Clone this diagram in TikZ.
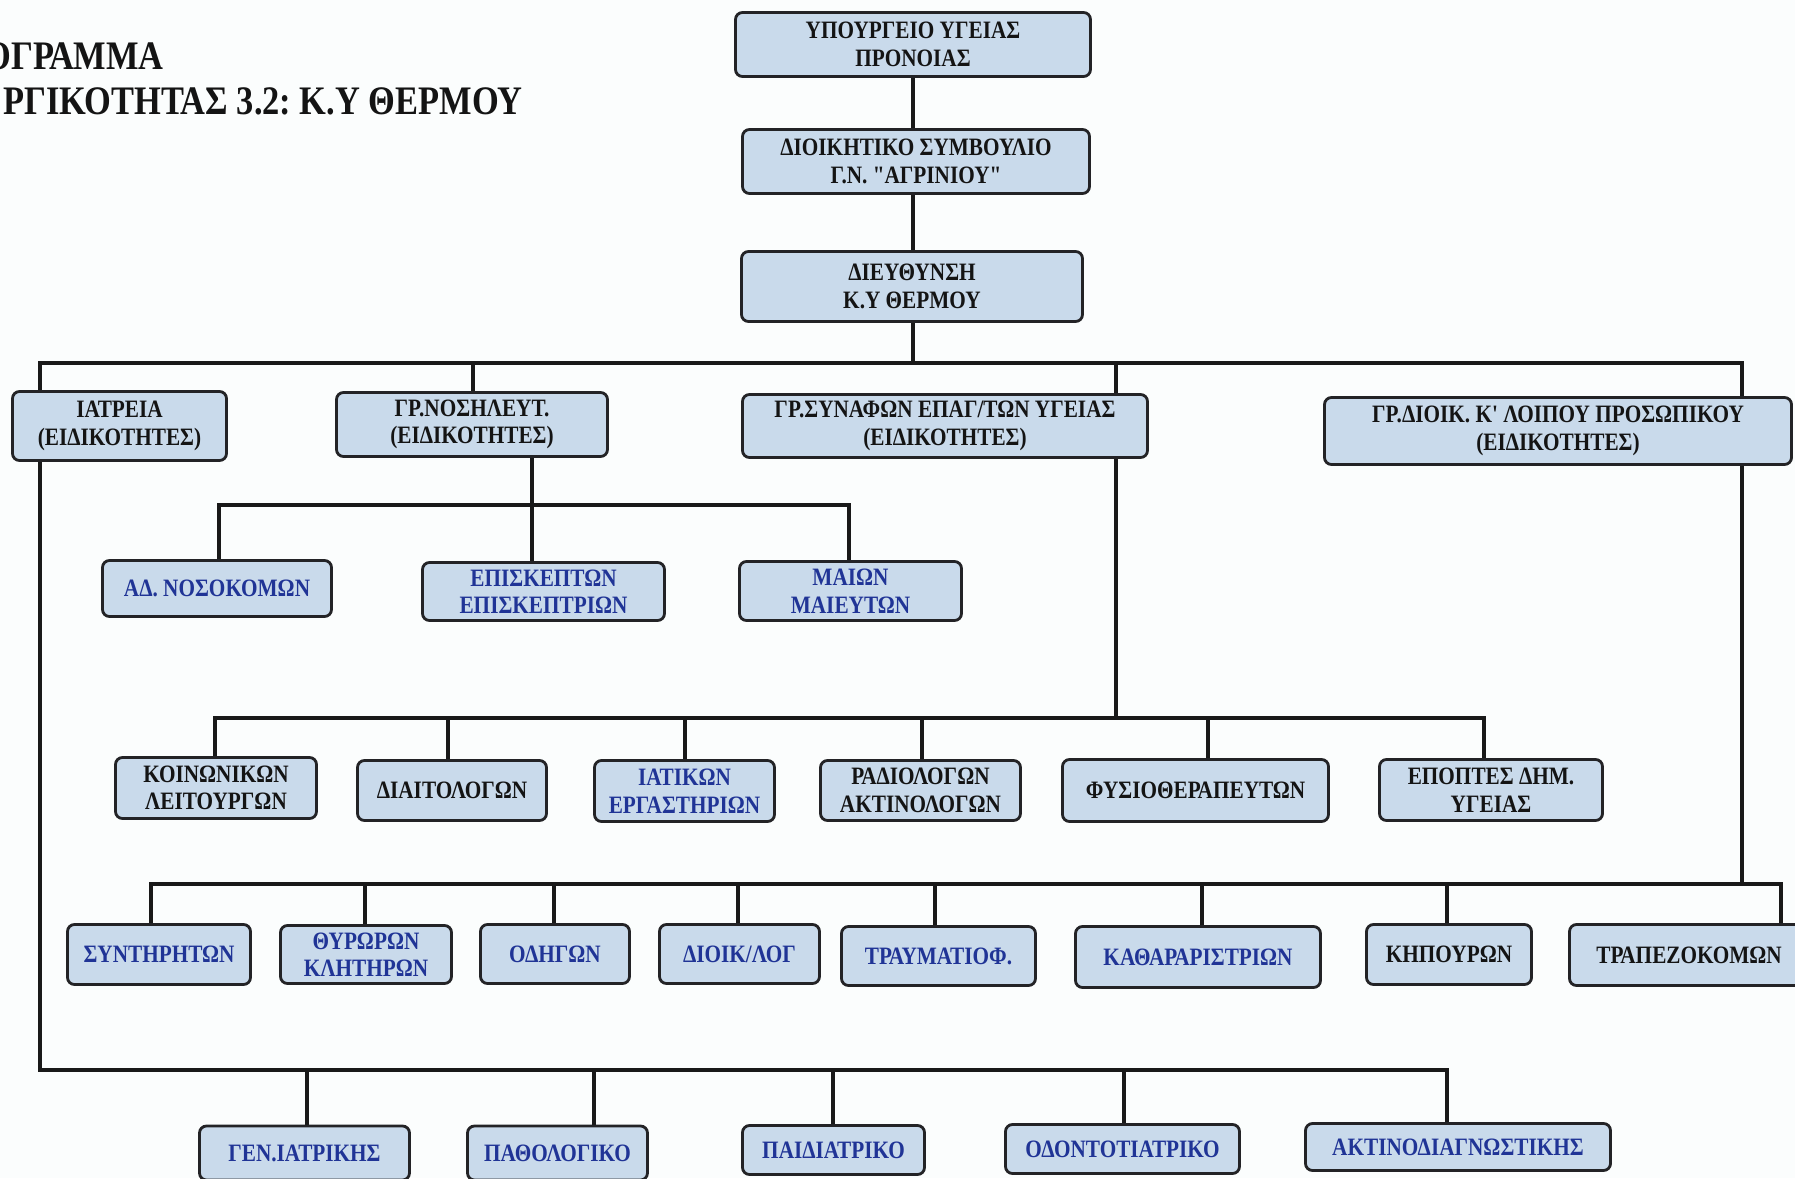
\documentclass[tikz,border=0pt]{standalone}
\usepackage{fontspec}
\usetikzlibrary{backgrounds}
\newfontfamily\bxfont{Liberation Serif}[FakeStretch=0.85]
\frenchspacing
\definecolor{boxfill}{RGB}{201,218,235}
\definecolor{boxline}{RGB}{35,35,38}
\definecolor{linecol}{RGB}{25,25,25}
\definecolor{txtblack}{RGB}{20,20,20}
\definecolor{txtblue}{RGB}{32,52,150}
\definecolor{bgcol}{RGB}{251,253,253}
\tikzset{
  box/.style={draw=boxline, line width=2.8pt, fill=boxfill, rounded corners=7pt,
    inner sep=0pt, align=center, text=txtblack,
    font=\bxfont\fontsize{25}{27.5}\selectfont\bfseries},
  bl/.style={text=txtblue},
  conn/.style={draw=linecol, line width=4.5pt, line join=miter},
  ttl/.style={inner sep=0pt, text=txtblack, font=\bxfont\fontsize{40.5}{45}\selectfont\bfseries}
}
\begin{document}
\begin{tikzpicture}[x=1pt,y=-1pt]
\clip (0,0) rectangle (1795,1178);

% title
\node[ttl, anchor=base east] (t1) at (164,69) {ΟΓΡΑΜΜΑ};
\node[ttl, anchor=base east] (t2) at (523,114) {ΡΓΙΚΟΤΗΤΑΣ 3.2: Κ.Υ ΘΕΡΜΟΥ};

% junction coordinates
\coordinate (jt) at (913,363);
\coordinate (j1a) at (40,363);
\coordinate (j1b) at (473,363);
\coordinate (j1c) at (1116,363);
\coordinate (j1d) at (1742,363);
\coordinate (j2a) at (219,505);
\coordinate (j2b) at (532,505);
\coordinate (j2c) at (849,505);
\coordinate (j3s) at (1116,718);
\coordinate (j3a) at (215,718);
\coordinate (j3b) at (448,718);
\coordinate (j3c) at (685,718);
\coordinate (j3d) at (922,718);
\coordinate (j3e) at (1208,718);
\coordinate (j3f) at (1484,718);
\coordinate (j4s) at (1742,884);
\coordinate (j4a) at (151,884);
\coordinate (j4b) at (365,884);
\coordinate (j4c) at (554,884);
\coordinate (j4d) at (738,884);
\coordinate (j4e) at (935,884);
\coordinate (j4f) at (1202,884);
\coordinate (j4g) at (1447,884);
\coordinate (j4h) at (1781,884);
\coordinate (j5s) at (40,1070);
\coordinate (j5a) at (307,1070);
\coordinate (j5b) at (594,1070);
\coordinate (j5c) at (833,1070);
\coordinate (j5d) at (1124,1070);
\coordinate (j5e) at (1447,1070);

% level 0-2
\node[box, minimum width=355pt, minimum height=64pt] (min) at (913,44.5) {ΥΠΟΥΡΓΕΙΟ ΥΓΕΙΑΣ\\ΠΡΟΝΟΙΑΣ};
\node[box, minimum width=347pt, minimum height=64pt] (ds) at (916,161.5) {ΔΙΟΙΚΗΤΙΚΟ ΣΥΜΒΟΥΛΙΟ\\Γ.Ν. "ΑΓΡΙΝΙΟΥ"};
\node[box, minimum width=341pt, minimum height=70pt] (dir) at (912,286.5) {ΔΙΕΥΘΥΝΣΗ\\Κ.Υ ΘΕΡΜΟΥ};

\node[box, minimum width=214pt, minimum height=69pt] (iat) at (119.5,426) {ΙΑΤΡΕΙΑ\\(ΕΙΔΙΚΟΤΗΤΕΣ)};
\node[box, minimum width=271pt, minimum height=64pt] (nos) at (472,424.5) {ΓΡ.ΝΟΣΗΛΕΥΤ.\\(ΕΙΔΙΚΟΤΗΤΕΣ)};
\node[box, minimum width=405pt, minimum height=63pt] (syn) at (945,426) {ΓΡ.ΣΥΝΑΦΩΝ ΕΠΑΓ/ΤΩΝ ΥΓΕΙΑΣ\\(ΕΙΔΙΚΟΤΗΤΕΣ)};
\node[box, minimum width=467pt, minimum height=67pt] (dio) at (1558,431) {ΓΡ.ΔΙΟΙΚ. Κ' ΛΟΙΠΟΥ ΠΡΟΣΩΠΙΚΟΥ\\(ΕΙΔΙΚΟΤΗΤΕΣ)};

% nursing children
\node[box, bl, minimum width=229pt, minimum height=56pt] (adn) at (217,588.5) {ΑΔ. ΝΟΣΟΚΟΜΩΝ};
\node[box, bl, minimum width=242pt, minimum height=58pt] (epi) at (543.5,591.5) {ΕΠΙΣΚΕΠΤΩΝ\\ΕΠΙΣΚΕΠΤΡΙΩΝ};
\node[box, bl, minimum width=222pt, minimum height=59pt] (mai) at (850.5,591) {ΜΑΙΩΝ\\ΜΑΙΕΥΤΩΝ};

% allied health children
\node[box, minimum width=201pt, minimum height=61pt] (koi) at (216,788) {ΚΟΙΝΩΝΙΚΩΝ\\ΛΕΙΤΟΥΡΓΩΝ};
\node[box, minimum width=189pt, minimum height=60pt] (dia) at (452,790.5) {ΔΙΑΙΤΟΛΟΓΩΝ};
\node[box, bl, minimum width=180pt, minimum height=61pt] (iatik) at (684.5,791) {ΙΑΤΙΚΩΝ\\ΕΡΓΑΣΤΗΡΙΩΝ};
\node[box, minimum width=200pt, minimum height=60pt] (rad) at (920.5,790.5) {ΡΑΔΙΟΛΟΓΩΝ\\ΑΚΤΙΝΟΛΟΓΩΝ};
\node[box, minimum width=266pt, minimum height=62pt] (fys) at (1195.5,790.5) {ΦΥΣΙΟΘΕΡΑΠΕΥΤΩΝ};
\node[box, minimum width=223pt, minimum height=61pt] (epo) at (1491,790) {ΕΠΟΠΤΕΣ ΔΗΜ.\\ΥΓΕΙΑΣ};

% admin children
\node[box, bl, minimum width=183pt, minimum height=60pt] (synt) at (159,954.5) {ΣΥΝΤΗΡΗΤΩΝ};
\node[box, bl, minimum width=171pt, minimum height=58pt] (thy) at (366,954.5) {ΘΥΡΩΡΩΝ\\ΚΛΗΤΗΡΩΝ};
\node[box, bl, minimum width=149pt, minimum height=59pt] (odi) at (555,954) {ΟΔΗΓΩΝ};
\node[box, bl, minimum width=160pt, minimum height=59pt] (dlog) at (739.5,954) {ΔΙΟΙΚ/ΛΟΓ};
\node[box, bl, minimum width=194pt, minimum height=59pt] (tra) at (938.5,956) {ΤΡΑΥΜΑΤΙΟΦ.};
\node[box, bl, minimum width=245pt, minimum height=61pt] (kath) at (1198,957) {ΚΑΘΑΡΑΡΙΣΤΡΙΩΝ};
\node[box, minimum width=165pt, minimum height=60pt] (kip) at (1449,954.5) {ΚΗΠΟΥΡΩΝ};
\node[box, minimum width=239pt, minimum height=61pt] (trap) at (1689,955) {ΤΡΑΠΕΖΟΚΟΜΩΝ};

% clinics children
\node[box, bl, minimum width=210pt, minimum height=54pt] (gen) at (304.5,1153) {ΓΕΝ.ΙΑΤΡΙΚΗΣ};
\node[box, bl, minimum width=180pt, minimum height=54pt] (pat) at (557.5,1153) {ΠΑΘΟΛΟΓΙΚΟ};
\node[box, bl, minimum width=182pt, minimum height=49pt] (pai) at (833.5,1150) {ΠΑΙΔΙΑΤΡΙΚΟ};
\node[box, bl, minimum width=234pt, minimum height=49pt] (odo) at (1122.5,1149) {ΟΔΟΝΤΟΤΙΑΤΡΙΚΟ};
\node[box, bl, minimum width=305pt, minimum height=47pt] (akt) at (1458,1147) {ΑΚΤΙΝΟΔΙΑΓΝΩΣΤΙΚΗΣ};

% background and connectors, drawn behind the boxes
\begin{scope}[on background layer]
\fill[bgcol] (0,0) rectangle (1795,1178);
\begin{scope}[conn]
\draw (min.south -| jt) -- (ds.north -| jt);
\draw (ds.south -| jt) -- (dir.north -| jt);
\draw (dir.south -| jt) -- (jt);
\draw (iat.north -| j1a) -- (j1a) -- (j1d) -- (dio.north -| j1d);
\draw (j1b) -- (nos.north -| j1b);
\draw (j1c) -- (syn.north -| j1c);
% nursing
\draw (nos.south -| j2b) -- (epi.north -| j2b);
\draw (adn.north -| j2a) -- (j2a) -- (j2c) -- (mai.north -| j2c);
% allied health
\draw (syn.south -| j3s) -- (j3s);
\draw (koi.north -| j3a) -- (j3a) -- (j3f) -- (epo.north -| j3f);
\draw (j3b) -- (dia.north -| j3b);
\draw (j3c) -- (iatik.north -| j3c);
\draw (j3d) -- (rad.north -| j3d);
\draw (j3e) -- (fys.north -| j3e);
% admin
\draw (dio.south -| j4s) -- (j4s);
\draw (synt.north -| j4a) -- (j4a) -- (j4h) -- (trap.north -| j4h);
\draw (j4b) -- (thy.north -| j4b);
\draw (j4c) -- (odi.north -| j4c);
\draw (j4d) -- (dlog.north -| j4d);
\draw (j4e) -- (tra.north -| j4e);
\draw (j4f) -- (kath.north -| j4f);
\draw (j4g) -- (kip.north -| j4g);
% clinics
\draw (iat.south -| j5s) -- (j5s) -- (j5e) -- (akt.north -| j5e);
\draw (j5a) -- (gen.north -| j5a);
\draw (j5b) -- (pat.north -| j5b);
\draw (j5c) -- (pai.north -| j5c);
\draw (j5d) -- (odo.north -| j5d);
\end{scope}
\end{scope}
\end{tikzpicture}
\end{document}
